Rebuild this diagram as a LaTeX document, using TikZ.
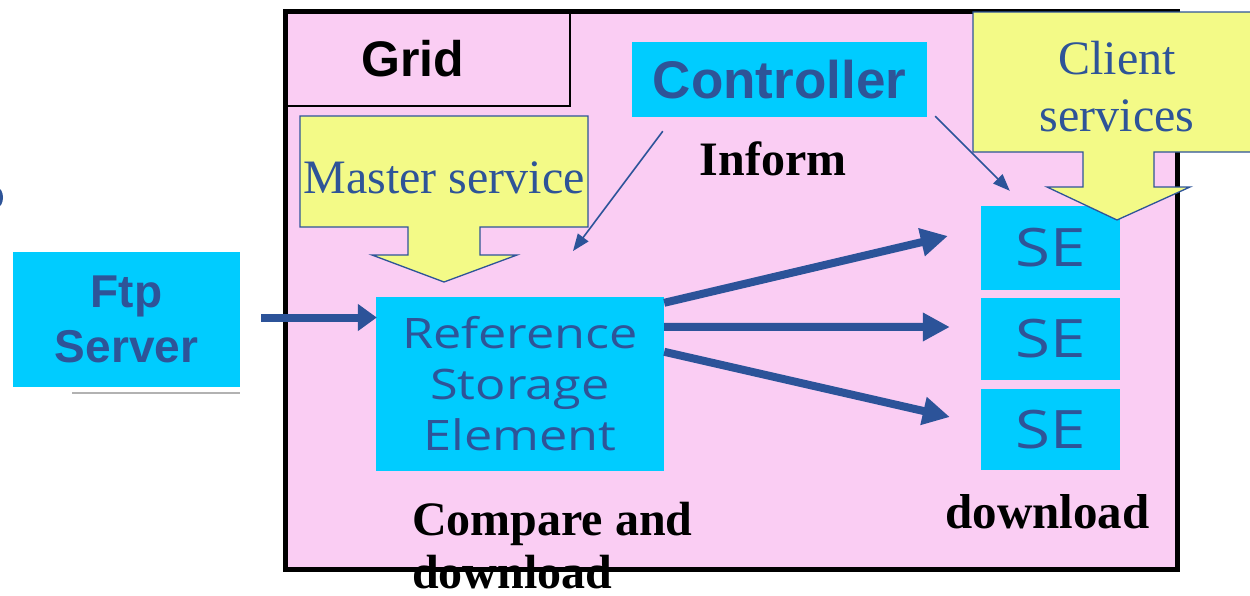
\documentclass[tikz,border=0pt]{standalone}
\usepackage{fontspec}
\setmainfont{Liberation Serif}
\newfontfamily\arialfont{Liberation Sans}
\newfontfamily\rsefont{Open Sans}[FakeStretch=1.2]
\usetikzlibrary{arrows.meta,calc}
\definecolor{pinkbg}{RGB}{250,205,243}
\definecolor{cyanbox}{RGB}{0,204,255}
\definecolor{yellowbox}{RGB}{243,250,135}
\definecolor{txtblue}{RGB}{46,84,152}
\definecolor{arrowblue}{RGB}{44,83,153}
\begin{document}
\begin{tikzpicture}[x=1pt,y=-1pt,
  cbox/.style={fill=cyanbox, draw=none, inner sep=0pt, text=txtblue, align=center},
  ybox/.style={fill=yellowbox, draw=txtblue, line width=1.3pt, line join=miter},
  sebox/.style={cbox, minimum width=139pt, font=\rsefont\fontsize{53}{60}\selectfont},
  bigarr/.style={draw=arrowblue, line width=8pt, -{Triangle[length=27pt,width=27pt]}},
  ftparr/.style={draw=arrowblue, line width=8pt, -{Triangle[length=19pt,width=26pt]}},
  thinarr/.style={draw=arrowblue, line width=1.6pt, -{Triangle[length=17pt,width=13pt]}},
  serifblue/.style={text=txtblue, inner sep=0pt, font=\fontsize{48}{57}\selectfont},
  serifbold/.style={text=black, inner sep=0pt, font=\bfseries\fontsize{48}{53}\selectfont}
]
\useasboundingbox (0,0) rectangle (1250,595);
\clip (0,0) rectangle (1250,595);

% partial glyph at left edge
\fill[txtblue] (-3,197.5) ellipse (6 and 10);

% main frame
\node[draw=black, fill=pinkbg, line width=5pt, minimum width=892pt, minimum height=558pt, inner sep=0pt] (frame) at (731,290) {};

% Grid box
\node[draw=black, line width=1.5pt, minimum width=285pt, minimum height=95pt, inner sep=0pt] (gridbox) at (427.5,58.5) {};
\node[anchor=base, inner sep=0pt, font=\arialfont\bfseries\fontsize{50}{60}\selectfont] (gridlabel) at (413,76) {Grid};

% Ftp server
\node[cbox, minimum width=227pt, minimum height=135pt, font=\arialfont\bfseries\fontsize{46}{55}\selectfont] (ftp) at (126.5,319.5) {Ftp\\Server};
\draw[gray!60, line width=1.2pt] (72,393) -- (240,393);

% Controller
\node[cbox, minimum width=295pt, minimum height=75pt, font=\arialfont\bfseries\fontsize{53}{60}\selectfont] (ctrl) at (779.5,79.5) {Controller};

% Master service arrow
\draw[ybox] (300,116) -- (588,116) -- (588,227) -- (480,227) -- (480,255) -- (517,255) -- (444,282) -- (372,255) -- (408,255) -- (408,227) -- (300,227) -- cycle;
\node[serifblue, anchor=base] (master) at (444,193) {Master service};

% Inform
\node[serifbold, anchor=base] (inform) at (773,175) {Inform};

% Reference storage element
\node[cbox, minimum width=288pt, minimum height=174pt, font=\rsefont\fontsize{42}{51}\selectfont] (rse) at (520,384) {Reference\\Storage\\Element};

% SE boxes
\node[sebox, minimum height=84pt] (se1) at (1050.5,248) {SE};
\node[sebox, minimum height=82pt] (se2) at (1050.5,339) {SE};
\node[sebox, minimum height=81pt] (se3) at (1050.5,429.5) {SE};

% labels
\node[serifbold, anchor=north west, align=left] (compare) at (412,502) {Compare and\\download};
\node[serifbold, anchor=base, font=\bfseries\fontsize{49}{55}\selectfont] (download) at (1047.5,528) {download};

% thick arrows
\draw[ftparr] ($(ftp.east)+(21,-2)$) -- ($(rse.west |- ftp.east)+(1,-2)$);
\draw[bigarr] ($(rse.north east)+(0,6)$) -- ($(se1.west)+(-33,-12)$);
\draw[bigarr] ($(rse.north east)+(0,30)$) -- ($(se2.west)+(-31,-12)$);
\draw[bigarr] ($(rse.north east)+(0,55)$) -- ($(se3.west)+(-31,-12.5)$);

% thin inform arrows
\coordinate (informtip) at (573,251);
\draw[thinarr] ($(ctrl.south west)+(31,14)$) -- (informtip);
\draw[thinarr] ($(ctrl.south east)+(8,-1)$) -- ($(se1.north west)+(29,-15)$);

% Client services arrow
\draw[ybox] (973,12) -- (1260,12) -- (1260,152) -- (1154,152) -- (1154,187) -- (1190,187) -- (1117,220) -- (1047,187) -- (1083,187) -- (1083,152) -- (973,152) -- cycle;
\node[serifblue, anchor=north, align=center] (client) at (1117,41) {Client\\services};
\end{tikzpicture}
\end{document}
